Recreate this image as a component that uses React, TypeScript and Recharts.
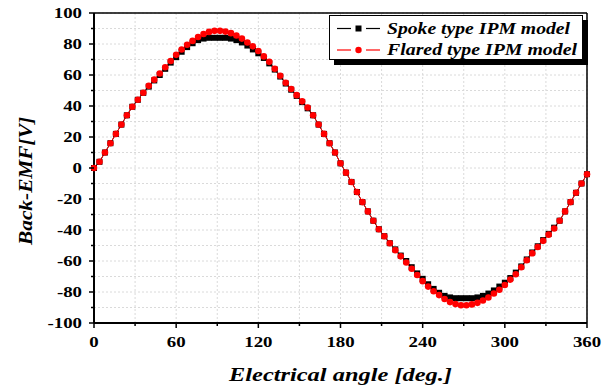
import { LineChart, Line, XAxis, YAxis, CartesianGrid, ReferenceLine, Legend } from 'recharts';

const angles = [
  0, 4, 8, 12, 16, 20, 24, 28, 32, 36, 40, 44, 48, 52, 56, 60, 64, 68, 72, 76, 80, 84, 88,
  92, 96, 100, 104, 108, 112, 116, 120, 124, 128, 132, 136, 140, 144, 148, 152, 156, 160, 164, 168, 172, 176, 180,
  184, 188, 192, 196, 200, 204, 208, 212, 216, 220, 224, 228, 232, 236, 240, 244, 248, 252, 256, 260, 264, 268,
  272, 276, 280, 284, 288, 292, 296, 300, 304, 308, 312, 316, 320, 324, 328, 332, 336, 340, 344, 348, 352, 356, 360,
];

const spokeEmf = [
  0, 4, 10, 16, 22, 28, 34, 39.5, 44, 48.5, 52.5, 56.5, 60, 64, 68, 71.5, 75, 78, 80.5, 82.5, 83.5, 84, 84,
  84, 84, 83.5, 82.5, 81, 79, 76.5, 74, 71, 67.5, 63.5, 59, 54.5, 50.5, 46.5, 42.5, 38.5, 34, 28, 22, 16, 10, 3,
  -3, -9, -15.5, -22, -28, -34, -39.5, -44, -48.5, -52.5, -56.5, -60, -64, -68, -71.5, -75, -78, -80.5, -82.5, -83.5, -84, -84,
  -84, -84, -83.5, -82.5, -81, -79, -76.5, -74, -71, -67.5, -63.5, -59, -54.5, -50.5, -46.5, -42.5, -38.5, -34, -28, -22, -16, -10, -4,
];

const flaredEmf = [
  0, 4, 10, 16, 22, 28, 34, 39.5, 44, 48.5, 53, 57, 61, 65, 69, 73, 76.5, 79.5, 82, 84.5, 86.5, 87.8, 88.5,
  88.5, 88, 87, 85.5, 83.5, 81, 78.5, 75.5, 72, 68.5, 64, 59.5, 55, 51, 47, 43, 39, 34, 28, 22, 16, 10, 3,
  -3, -9, -15.5, -22, -28, -34, -39.5, -44, -48.5, -53, -57, -61, -65, -69, -73, -76.5, -79.5, -82, -84.5, -86.5, -87.8, -88.5,
  -88.5, -88, -87, -85.5, -83.5, -81, -78.5, -75.5, -72, -68.5, -64, -59.5, -55, -51, -47, -43, -39, -34, -28, -22, -16, -10, -4,
];

const xTicks = [0, 30, 60, 90, 120, 150, 180, 210, 240, 270, 300, 330, 360];
const yTicks = [-100, -90, -80, -70, -60, -50, -40, -30, -20, -10, 0, 10, 20, 30, 40, 50, 60, 70, 80, 90, 100];

const data = angles.map((a, i) => ({ angle: a, spoke: spokeEmf[i], flared: flaredEmf[i] }));

const font = "'Liberation Serif', serif";

const YTick = ({ x, y, payload }: any) => {
  const major = payload.value % 20 === 0;
  return (
    <g>
      <line x1={x} x2={x - (major ? 5 : 3)} y1={y} y2={y} stroke='#000' strokeWidth={1.5} />
      {major && (
        <text
          transform={`translate(${x - 12},${y + 5}) scale(1.3,1)`}
          textAnchor='end'
          style={{ fontFamily: font }}
          fontWeight='bold'
          fontSize={14.5}
          fill='#000'
        >
          {payload.value}
        </text>
      )}
    </g>
  );
};

const XTick = ({ x, y, payload }: any) => {
  const major = payload.value % 60 === 0;
  return (
    <g>
      <line x1={x} x2={x} y1={y} y2={y + (major ? 5 : 3)} stroke='#000' strokeWidth={1.5} />
      {major && (
        <text
          transform={`translate(${x},${y + 23.5}) scale(1.3,1)`}
          textAnchor='middle'
          style={{ fontFamily: font }}
          fontWeight='bold'
          fontSize={14.5}
          fill='#000'
        >
          {payload.value}
        </text>
      )}
    </g>
  );
};

const XTitle = ({ viewBox }: any) => (
  <text
    x={viewBox.x + viewBox.width / 2}
    y={viewBox.y + 58}
    textAnchor='middle'
    textLength={223}
    lengthAdjust='spacingAndGlyphs'
    style={{ fontFamily: font }}
    fontWeight='bold'
    fontStyle='italic'
    fontSize={18}
    fill='#000'
  >
    Electrical angle [deg.]
  </text>
);

const YTitle = () => (
  <text
    transform='translate(32,181) rotate(-90)'
    textAnchor='middle'
    textLength={128}
    lengthAdjust='spacingAndGlyphs'
    style={{ fontFamily: font }}
    fontWeight='bold'
    fontStyle='italic'
    fontSize={18}
    fill='#000'
  >
    Back-EMF[V]
  </text>
);

const SquareDot = ({ cx, cy, index }: any) => (
  <rect key={`sq-${index}`} x={cx - 3} y={cy - 3} width={6} height={6} fill='#000' />
);

const CircleDot = ({ cx, cy, index }: any) => (
  <circle key={`ci-${index}`} cx={cx} cy={cy} r={3.3} fill='#ff0000' />
);

const legendItems = [
  { name: 'Spoke type IPM model', color: '#000', square: true, len: 183 },
  { name: 'Flared type IPM model', color: '#ff0000', square: false, len: 190 },
];

const LegendBox = () => (
  <svg width={262} height={52}>
    <rect x={5} y={5} width={254} height={45} fill='#000' />
    <rect x={0.5} y={0.5} width={253} height={44} fill='#fff' stroke='#000' strokeWidth={1} />
    {legendItems.map((it, i) => {
      const cy = 13.5 + i * 21.5;
      return (
        <g key={it.name}>
          <line x1={8} x2={22} y1={cy} y2={cy} stroke={it.color} strokeWidth={1.2} />
          <line x1={37} x2={51} y1={cy} y2={cy} stroke={it.color} strokeWidth={1.2} />
          {it.square ? (
            <rect x={26.5} y={cy - 3} width={6} height={6} fill={it.color} />
          ) : (
            <circle cx={29.5} cy={cy} r={3.2} fill={it.color} />
          )}
          <text
            x={58}
            y={cy + 5}
            textLength={it.len}
            lengthAdjust='spacingAndGlyphs'
            style={{ fontFamily: font }}
            fontWeight='bold'
            fontStyle='italic'
            fontSize={16}
            fill='#000'
          >
            {it.name}
          </text>
        </g>
      );
    })}
  </svg>
);

const App = () => {
  return (
    <div>
      <style>{'body{margin:0}'}</style>
      <LineChart width={614} height={385} data={data} margin={{ top: 13, right: 27, left: 0, bottom: 0 }}>
        <CartesianGrid stroke='#dadada' strokeDasharray='2 2' />
        <XAxis
          dataKey='angle'
          type='number'
          domain={[0, 360]}
          ticks={xTicks}
          interval={0}
          height={62}
          tickSize={0}
          tickMargin={0}
          tickLine={false}
          tick={<XTick />}
          axisLine={{ stroke: '#000', strokeWidth: 2 }}
          label={{ content: (p: any) => <XTitle {...p} /> }}
        />
        <YAxis
          type='number'
          domain={[-100, 100]}
          ticks={yTicks}
          interval={0}
          width={94}
          tickSize={0}
          tickMargin={0}
          tickLine={false}
          tick={<YTick />}
          axisLine={{ stroke: '#000', strokeWidth: 2 }}
          label={{ content: () => <YTitle /> }}
        />
        <ReferenceLine y={100} stroke='#000' strokeWidth={1.5} />
        <ReferenceLine x={360} stroke='#000' strokeWidth={1.5} />
        <Line
          type='linear'
          dataKey='spoke'
          name='Spoke type IPM model'
          stroke='#000'
          strokeWidth={1}
          dot={SquareDot}
          activeDot={false}
          isAnimationActive={false}
        />
        <Line
          type='linear'
          dataKey='flared'
          name='Flared type IPM model'
          stroke='#ff0000'
          strokeWidth={1}
          dot={CircleDot}
          activeDot={false}
          isAnimationActive={false}
        />
        <Legend
          layout='vertical'
          align='center'
          verticalAlign='middle'
          content={<LegendBox />}
          wrapperStyle={{ top: 15, left: 329, width: 262 }}
        />
      </LineChart>
    </div>
  );
};

export default App;
